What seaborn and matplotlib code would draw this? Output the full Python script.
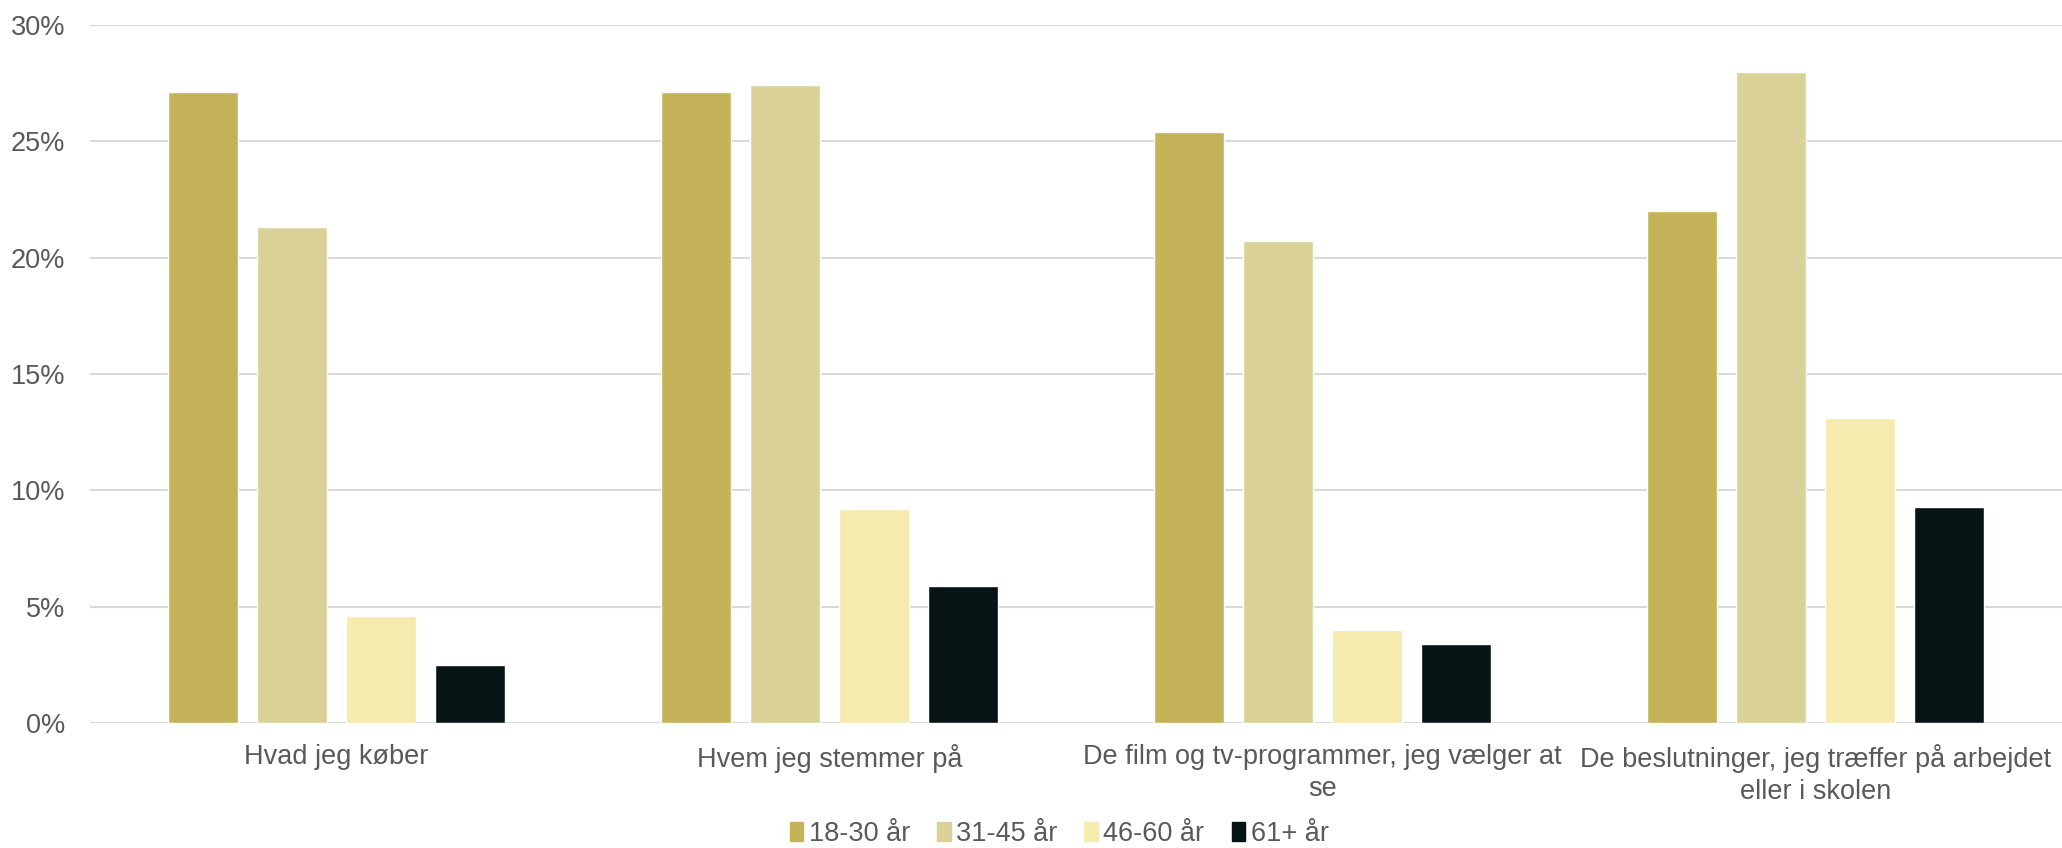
import numpy as np
import pandas as pd
import seaborn as sns
import matplotlib.pyplot as plt
from matplotlib.ticker import PercentFormatter

# data
categories = ['Hvad jeg køber',
              'Hvem jeg stemmer på',
              'De film og tv-programmer, jeg vælger at\nse',
              'De beslutninger, jeg træffer på arbejdet\neller i skolen']
age_groups = ['18-30 år', '31-45 år', '46-60 år', '61+ år']
v_18_30 = [27.1, 27.1, 25.4, 22.0]
v_31_45 = [21.3, 27.4, 20.7, 28.0]
v_46_60 = [4.6, 9.2, 4.0, 13.1]
v_61 = [2.5, 5.9, 3.4, 9.3]
colors = ['#C4B358', '#DAD196', '#F5EBAE', '#061415']

rows = []
for grp, vals in zip(age_groups, [v_18_30, v_31_45, v_46_60, v_61]):
    for cat, v in zip(categories, vals):
        rows.append({'cat': cat, 'grp': grp, 'val': v})
df = pd.DataFrame(rows)

sns.set_style('white')
plt.rcParams['font.family'] = ['Liberation Sans', 'DejaVu Sans']

fig, ax = plt.subplots(figsize=(20.62, 8.48), dpi=100)
fig.subplots_adjust(left=90/2062, right=1.0, top=1-25/848, bottom=1-723/848)

sns.barplot(data=df, x='cat', y='val', hue='grp', order=categories,
            hue_order=age_groups, palette=colors, width=0.723, gap=0.22,
            saturation=1, ax=ax, legend=False)

ax.set_ylim(0, 30)
ax.set_xlim(-0.5, 3.5)
ax.set_yticks(np.arange(0, 31, 5))
ax.yaxis.set_major_formatter(PercentFormatter(decimals=0))
ax.grid(axis='y', color='#D9D9D9', linewidth=1.5)
ax.set_axisbelow(True)
for s in ax.spines.values():
    s.set_visible(False)
ax.set_xlabel('')
ax.set_ylabel('')
ax.tick_params(axis='both', length=0, labelsize=19.5, labelcolor='#595959')
ax.tick_params(axis='y', pad=18)
ax.tick_params(axis='x', pad=15)
for lbl in ax.get_xticklabels():
    lbl.set_linespacing(1.3)

handles = [plt.Rectangle((0, 0), 1, 1, color=c) for c in colors]
fig.legend(handles, age_groups, loc='center', bbox_to_anchor=(0.5136, 0.016),
           ncol=4, frameon=False, fontsize=19.5, labelcolor='#595959',
           handlelength=0.5, handleheight=0.7, handletextpad=0.2,
           columnspacing=1.0)

fig.savefig('out.png', dpi=100)
